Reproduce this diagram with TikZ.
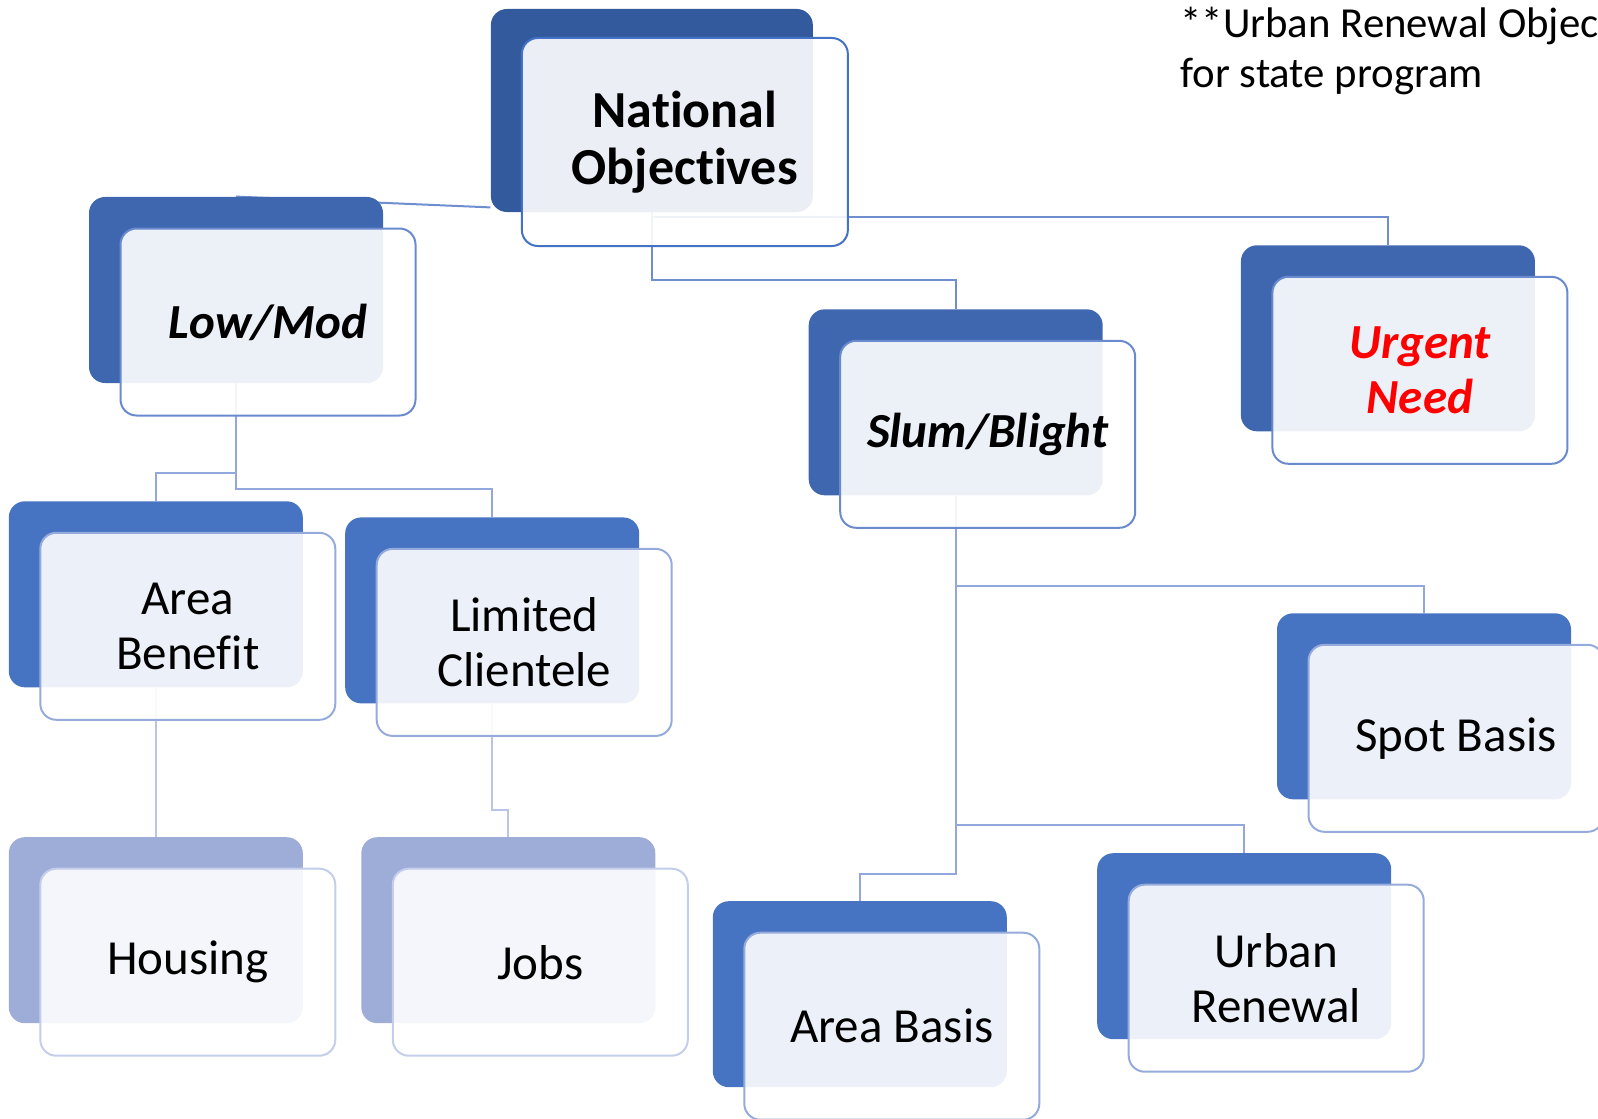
\documentclass[tikz,border=0pt]{standalone}
\usepackage{fontspec}
\setmainfont{Carlito}[Ligatures={NoCommon}]
\usetikzlibrary{positioning, calc, backgrounds}

\definecolor{navy}{RGB}{52,90,158}
\definecolor{midblue}{RGB}{63,103,176}
\definecolor{boxblue}{RGB}{70,116,194}
\definecolor{paleblue}{RGB}{158,173,216}
\definecolor{edgeA}{RGB}{68,114,196}
\definecolor{edgeB}{RGB}{106,138,206}
\definecolor{edgeC}{RGB}{150,171,220}
\definecolor{edgeD}{RGB}{196,206,234}
\definecolor{lineA}{RGB}{110,142,207}
\definecolor{lineB}{RGB}{146,167,219}
\definecolor{lineC}{RGB}{184,197,231}

\tikzset{
  backbox/.style={rounded corners=8pt, inner sep=0pt, minimum width=147pt, minimum height=93pt},
  frontbox/.style={draw, line width=1pt, rounded corners=8pt, fill=white, fill opacity=0.9,
    text opacity=1, inner sep=0pt, minimum width=147.5pt, minimum height=93.5pt,
    xshift=16pt, yshift=-16pt, align=center, font=\fontsize{24.5}{27.5}\selectfont},
  conn/.style={line width=1pt}
}

\begin{document}
\begin{tikzpicture}[x=0.5pt, y=-0.5pt]
    \useasboundingbox (0,0) rectangle (1598,1118);

    % top level
    \node[backbox, fill=navy, minimum width=161pt, minimum height=101.5pt] (national-b) at (651.85,110.5) {};
    \node[frontbox, draw=edgeA, minimum width=163pt, minimum height=104pt, xshift=0.5pt, yshift=0.25pt,
      font=\fontsize{26}{28.5}\selectfont\bfseries] (national) at (national-b) {National\\Objectives};

    % second level
    \node[backbox, fill=midblue] (lowmod-b) at (236,290) {};
    \node[frontbox, draw=edgeB, font=\fontsize{24.5}{27.5}\selectfont\bfseries\itshape] (lowmod) at (lowmod-b) {Low/Mod};

    \node[backbox, fill=midblue] (slum-b) at (955.7,402.3) {};
    \node[frontbox, draw=edgeB, font=\fontsize{24.5}{27.5}\selectfont\bfseries\itshape] (slum) at (slum-b) {Slum/Blight};

    \node[backbox, fill=midblue] (urgent-b) at (1387.9,338.3) {};
    \node[frontbox, draw=edgeB, text=red, font=\fontsize{24.5}{27.5}\selectfont\bfseries\itshape] (urgent) at (urgent-b) {Urgent\\Need};

    % third level
    \node[backbox, fill=boxblue] (areaben-b) at (155.8,594.3) {};
    \node[frontbox, draw=edgeC] (areaben) at (areaben-b) {Area\\Benefit};

    \node[backbox, fill=boxblue] (limited-b) at (492.2,610.4) {};
    \node[frontbox, draw=edgeC] (limited) at (limited-b) {Limited\\Clientele};

    \node[backbox, fill=boxblue] (spot-b) at (1424,706.3) {};
    \node[frontbox, draw=edgeC] (spot) at (spot-b) {Spot Basis};

    \node[backbox, fill=boxblue] (urban-b) at (1244.2,946.2) {};
    \node[frontbox, draw=edgeC] (urban) at (urban-b) {Urban\\Renewal};

    \node[backbox, fill=boxblue] (areabasis-b) at (859.8,994.2) {};
    \node[frontbox, draw=edgeC] (areabasis) at (areabasis-b) {Area Basis};

    % fourth level
    \node[backbox, fill=paleblue] (housing-b) at (155.8,930.2) {};
    \node[frontbox, draw=edgeD] (housing) at (housing-b) {Housing};

    \node[backbox, fill=paleblue] (jobs-b) at (508.3,930.2) {};
    \node[frontbox, draw=edgeD] (jobs) at (jobs-b) {Jobs};

    % note
    \node[anchor=base west, align=left, inner sep=0pt, font=\fontsize{21.4}{25.3}\selectfont] (note) at (1180,88)
      {**Urban Renewal Objective\\for state program};

    % connectors
    \begin{scope}[on background layer]
      \draw[conn, lineA] (lowmod-b.north) -- ($(national-b.south west)+(0,-5)$);
      \draw[conn, lineA] (national-b.south) -- ++(0,5) -| (urgent-b.north);
      \draw[conn, lineA] (national-b.south) -- ++(0,68) -| (slum-b.north);
      \draw[conn, lineB] (lowmod-b.south) -- ++(0,90) -| (areaben-b.north);
      \draw[conn, lineB] (lowmod-b.south) -- ++(0,106) -| (limited-b.north);
      \draw[conn, lineC] (areaben-b.south) -- (housing-b.north);
      \draw[conn, lineC] (limited-b.south) -- ++(0,106) -| (jobs-b.north);
      \draw[conn, lineB] (slum-b.south) -- ++(0,90) -| (spot-b.north);
      \draw[conn, lineB] (slum-b.south) -- ++(0,329) -| (urban-b.north);
      \draw[conn, lineB] (slum-b.south) -- ++(0,378) -| (areabasis-b.north);
    \end{scope}
\end{tikzpicture}
\end{document}
